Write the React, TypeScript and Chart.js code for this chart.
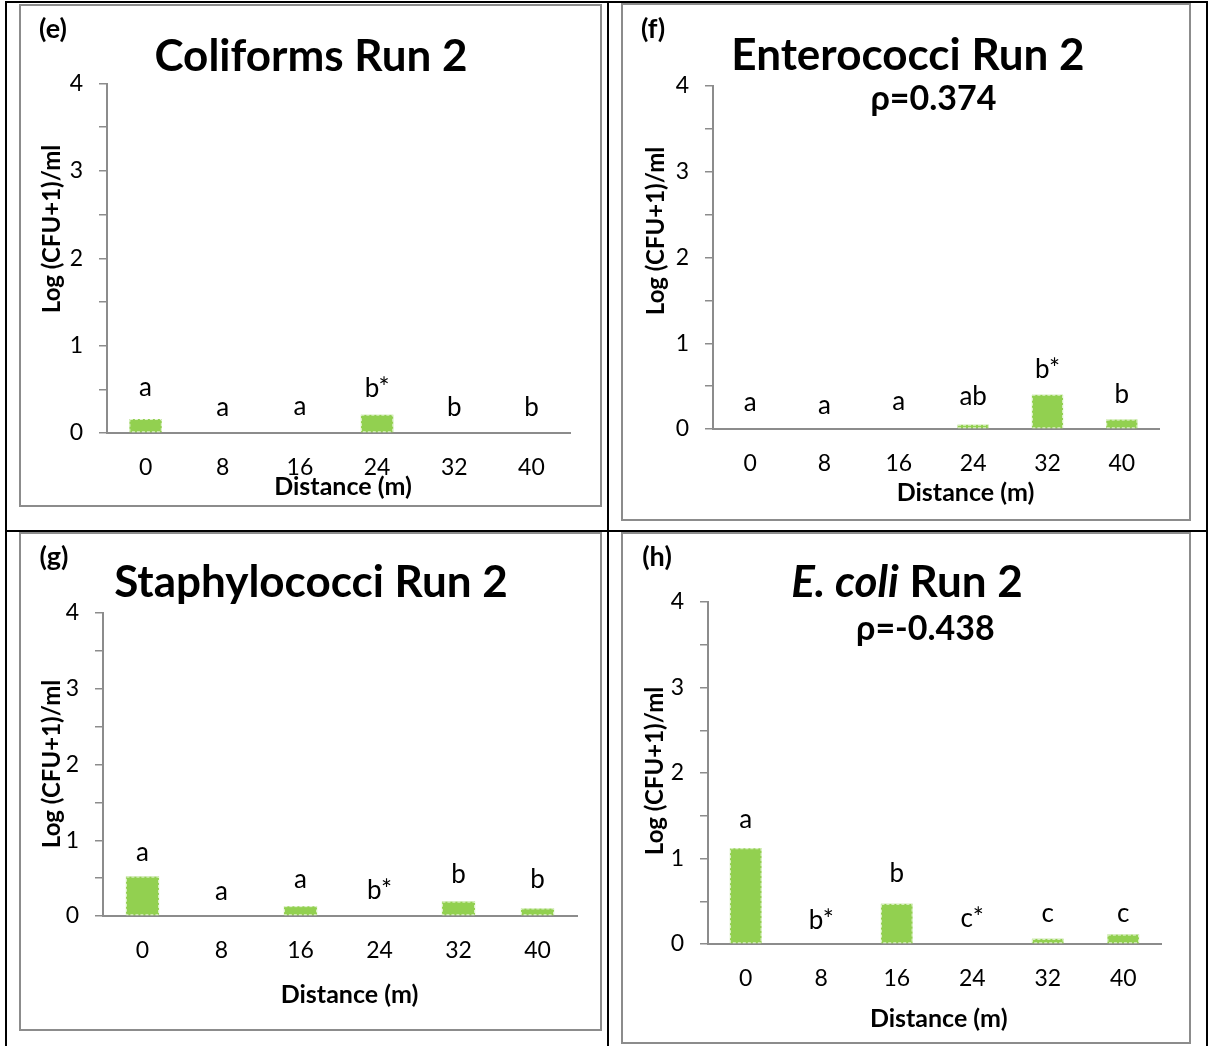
import React, { useEffect, useRef } from 'react';
import { Chart, registerables } from 'chart.js';

Chart.register(...registerables);

const FONT = 'Lato, "Open Sans", sans-serif';
const AXIS = '#8c8c8c';
const BAR = '#92D050';

// ---- data ----
const distances = ['0', '8', '16', '24', '32', '40'];
const yTickValues = [0, 1, 2, 3, 4];

const coliformsRun2 = [0.16, 0, 0, 0.21, 0, 0];
const coliformsLetters = ['a', 'a', 'a', 'b*', 'b', 'b'];
const coliformsLetterAt = [0.42, 0.19, 0.21, 0.41, 0.19, 0.19];

const enterococciRun2 = [0, 0, 0, 0.05, 0.4, 0.11];
const enterococciLetters = ['a', 'a', 'a', 'ab', 'b*', 'b'];
const enterococciLetterAt = [0.21, 0.18, 0.22, 0.28, 0.6, 0.3];
const enterococciRho = 'ρ=0.374';

const staphylococciRun2 = [0.52, 0, 0.13, 0, 0.19, 0.1];
const staphylococciLetters = ['a', 'a', 'a', 'b*', 'b', 'b'];
const staphylococciLetterAt = [0.73, 0.21, 0.37, 0.23, 0.44, 0.37];

const ecoliRun2 = [1.12, 0, 0.47, 0, 0.06, 0.11];
const ecoliLetters = ['a', 'b*', 'b', 'c*', 'c', 'c'];
const ecoliLetterAt = [1.36, 0.17, 0.72, 0.2, 0.26, 0.26];
const ecoliRho = 'ρ=-0.438';

const yAxisTitle = 'Log (CFU+1)/ml';
const xAxisTitle = 'Distance (m)';

// ---- plugins ----
const lettersPlugin = {
  id: 'sigLetters',
  afterDatasetsDraw(chart: any, _args: any, opts: any) {
    const { ctx, scales } = chart;
    const x = scales.x;
    const y = scales.y;
    ctx.save();
    ctx.font = `400 ${opts.size}px ${FONT}`;
    ctx.fillStyle = '#000';
    ctx.textAlign = 'center';
    ctx.textBaseline = 'alphabetic';
    (opts.letters || []).forEach((t: string, i: number) => {
      ctx.fillText(t, x.getPixelForValue(i), y.getPixelForValue(opts.at[i]));
    });
    ctx.restore();
  },
};

const dashedBorderPlugin = {
  id: 'dashedBorder',
  afterDatasetsDraw(chart: any) {
    const { ctx } = chart;
    const meta = chart.getDatasetMeta(0);
    ctx.save();
    ctx.strokeStyle = 'rgba(255,255,255,0.75)';
    ctx.lineWidth = 1;
    ctx.setLineDash([3, 2]);
    meta.data.forEach((el: any) => {
      const h = el.base - el.y;
      if (h > 1.5) {
        ctx.strokeRect(el.x - el.width / 2 + 0.5, el.y + 0.5, el.width - 1, h - 1);
      }
    });
    ctx.restore();
  },
};

type Box = { x: number; y: number; w: number; h: number };
type Area = { l: number; t: number; r: number; b: number };

function BarPanel(props: {
  box: Box;
  area: Area;
  values: number[];
  letters: string[];
  letterAt: number[];
}) {
  const ref = useRef<HTMLCanvasElement | null>(null);
  const { box, area, values, letters, letterAt } = props;
  useEffect(() => {
    if (!ref.current) return;
    const chart = new Chart(ref.current, {
      type: 'bar',
      data: {
        labels: distances,
        datasets: [
          {
            data: values,
            backgroundColor: BAR,
            borderWidth: 0,
            barPercentage: 0.42,
            categoryPercentage: 1,
          },
        ],
      },
      options: {
        animation: false,
        responsive: false,
        maintainAspectRatio: false,
        devicePixelRatio: 1,
        layout: {
          padding: { top: area.t - box.y, right: box.x + box.w - area.r, left: 0, bottom: 0 },
        },
        plugins: {
          legend: { display: false },
          tooltip: { enabled: false },
          title: { display: false },
          sigLetters: { letters, at: letterAt, size: 26 },
        } as any,
        scales: {
          x: {
            grid: { display: false, drawTicks: false, tickLength: 0 },
            border: { display: true, color: AXIS, width: 2 },
            ticks: {
              font: { family: FONT, size: 23 },
              color: '#000',
              padding: 21,
              maxRotation: 0,
              autoSkip: false,
            },
            afterFit: (s: any) => {
              s.height = box.y + box.h - area.b;
            },
          },
          y: {
            min: 0,
            max: 4,
            grid: {
              display: true,
              drawOnChartArea: false,
              drawTicks: true,
              tickLength: 8,
              color: AXIS,
              lineWidth: 1.5,
            },
            border: { display: true, color: AXIS, width: 2 },
            ticks: {
              stepSize: 0.5,
              font: { family: FONT, size: 23 },
              color: '#000',
              padding: 16,
              callback: (v: any) => (yTickValues.includes(Number(v)) ? String(v) : ''),
            },
            afterFit: (s: any) => {
              s.width = area.l - box.x;
            },
          },
        },
      } as any,
      plugins: [lettersPlugin, dashedBorderPlugin],
    });
    return () => chart.destroy();
  }, []);
  return (
    <>
      <canvas
        ref={ref}
        width={box.w}
        height={box.h}
        style={{ position: 'absolute', left: box.x, top: box.y, width: box.w, height: box.h }}
      />
      <div
        style={{
          position: 'absolute',
          left: box.x,
          top: box.y,
          width: box.w,
          height: box.h,
          border: `2px solid ${AXIS}`,
          boxSizing: 'border-box',
          pointerEvents: 'none',
        }}
      />
    </>
  );
}

function Txt(props: { x: number; base: number; size: number; bold?: boolean; children: React.ReactNode }) {
  const { x, base, size, bold = true, children } = props;
  return (
    <div
      style={{
        position: 'absolute',
        left: x,
        top: base - 0.887 * size,
        transform: 'translateX(-50%)',
        fontFamily: FONT,
        fontSize: size,
        fontWeight: bold ? 700 : 400,
        lineHeight: 1,
        whiteSpace: 'nowrap',
        color: '#000',
      }}
    >
      {children}
    </div>
  );
}

function VTxt(props: { x: number; y: number; size: number; children: React.ReactNode }) {
  const { x, y, size, children } = props;
  return (
    <div
      style={{
        position: 'absolute',
        left: x,
        top: y,
        transform: 'translate(-50%, -50%) rotate(-90deg)',
        fontFamily: FONT,
        fontSize: size,
        fontWeight: 700,
        lineHeight: 1,
        whiteSpace: 'nowrap',
        color: '#000',
      }}
    >
      {children}
    </div>
  );
}

function Line(props: { x: number; y: number; w: number; h: number }) {
  return (
    <div
      style={{
        position: 'absolute',
        left: props.x,
        top: props.y,
        width: props.w,
        height: props.h,
        background: '#000',
      }}
    />
  );
}

export default function App() {
  const TITLE = 44;
  const RHO = 34;
  const TAG = 27;
  const AX = 24;
  const XT = 25;
  return (
    <div
      style={{
        position: 'absolute',
        left: 0,
        top: 0,
        width: 1208,
        height: 1046,
        background: '#fff',
        overflow: 'hidden',
      }}
    >
      {/* table lines */}
      <Line x={5} y={1} w={1203} h={2} />
      <Line x={5} y={1} w={2} h={1045} />
      <Line x={1206} y={1} w={2} h={1045} />
      <Line x={607} y={1} w={2} h={1045} />
      <Line x={5} y={530} w={1203} h={2} />

      {/* (e) Coliforms */}
      <BarPanel
        box={{ x: 19, y: 4, w: 583, h: 503 }}
        area={{ l: 107, t: 83.5, r: 570, b: 433 }}
        values={coliformsRun2}
        letters={coliformsLetters}
        letterAt={coliformsLetterAt}
      />
      <Txt x={53} base={38} size={TAG}>(e)</Txt>
      <Txt x={311} base={71} size={TITLE}>Coliforms Run 2</Txt>
      <VTxt x={51} y={229} size={AX}>{yAxisTitle}</VTxt>
      <Txt x={343} base={495} size={XT}>{xAxisTitle}</Txt>

      {/* (f) Enterococci */}
      <BarPanel
        box={{ x: 621, y: 3, w: 570, h: 518 }}
        area={{ l: 713, t: 86, r: 1159, b: 429 }}
        values={enterococciRun2}
        letters={enterococciLetters}
        letterAt={enterococciLetterAt}
      />
      <Txt x={653} base={38} size={TAG}>(f)</Txt>
      <Txt x={908} base={70} size={TITLE}>Enterococci Run 2</Txt>
      <Txt x={933.5} base={110} size={RHO}>{enterococciRho}</Txt>
      <VTxt x={655} y={231} size={AX}>{yAxisTitle}</VTxt>
      <Txt x={965.5} base={501} size={XT}>{xAxisTitle}</Txt>

      {/* (g) Staphylococci */}
      <BarPanel
        box={{ x: 19, y: 532, w: 583, h: 499 }}
        area={{ l: 103, t: 613, r: 577, b: 916 }}
        values={staphylococciRun2}
        letters={staphylococciLetters}
        letterAt={staphylococciLetterAt}
      />
      <Txt x={54} base={566} size={TAG}>(g)</Txt>
      <Txt x={311} base={597} size={TITLE}>Staphylococci Run 2</Txt>
      <VTxt x={51} y={764} size={AX}>{yAxisTitle}</VTxt>
      <Txt x={349.5} base={1003} size={XT}>{xAxisTitle}</Txt>

      {/* (h) E. coli */}
      <BarPanel
        box={{ x: 621, y: 532, w: 570, h: 512 }}
        area={{ l: 708, t: 602, r: 1161, b: 944 }}
        values={ecoliRun2}
        letters={ecoliLetters}
        letterAt={ecoliLetterAt}
      />
      <Txt x={657} base={566} size={TAG}>(h)</Txt>
      <Txt x={907} base={597} size={TITLE}>
        <i>E. coli</i> Run 2
      </Txt>
      <Txt x={925.4} base={640} size={RHO}>{ecoliRho}</Txt>
      <VTxt x={654} y={771} size={AX}>{yAxisTitle}</VTxt>
      <Txt x={938.7} base={1027} size={XT}>{xAxisTitle}</Txt>
    </div>
  );
}
